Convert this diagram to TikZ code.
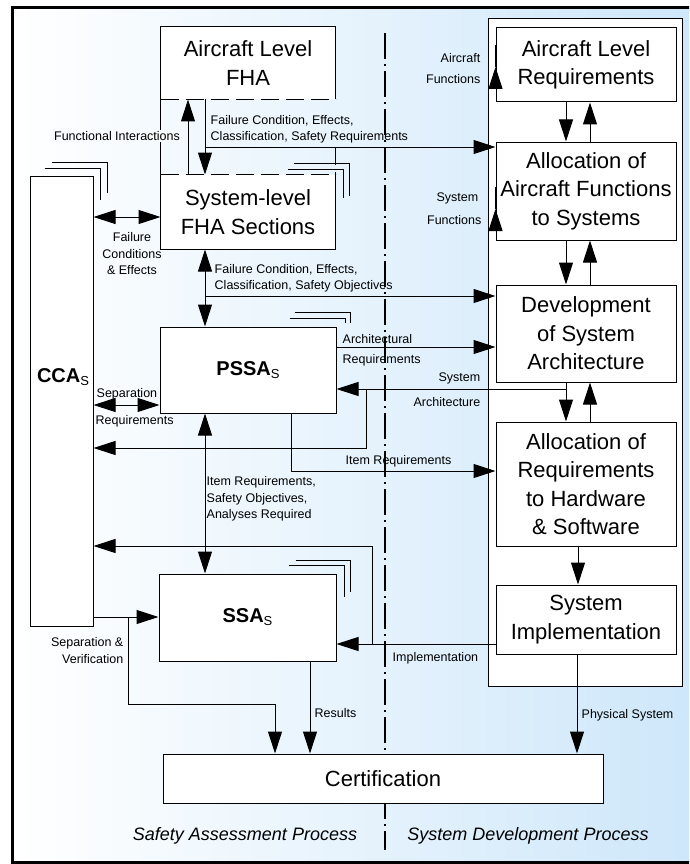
\documentclass[tikz,border=0pt]{standalone}
\usepackage{fontspec}
\setmainfont{Liberation Sans}
\usetikzlibrary{arrows.meta,calc}
\definecolor{bgblue}{RGB}{206,231,250}

\begin{document}
\begin{tikzpicture}[x=1pt,y=-1pt,
  box/.style={draw,fill=white,line width=1pt,align=center,inner sep=0pt,font=\fontsize{22}{28.5}\selectfont},
  bigbox/.style={box,font=\fontsize{20}{24}\selectfont},
  lbl/.style={font=\fontsize{12.5}{16.5}\selectfont,inner sep=1.5pt},
  arr/.style={line width=1pt,-{Triangle[length=22pt,width=14pt]}},
  arr2/.style={line width=1pt,{Triangle[length=22pt,width=14pt]}-{Triangle[length=22pt,width=14pt]}},
  fhadash/.style={line width=1pt,dash pattern=on 18pt off 7pt},
  thin/.style={line width=1pt}]

\useasboundingbox (0,0) rectangle (689,864);
\clip (0,0) rectangle (689,864);
\fill[left color=white,right color=bgblue] (12,8) rectangle (689,862);
\draw[line width=3pt] (12,8) rectangle (700,862);

% process divider
\draw[line width=1.5pt,dash pattern=on 26pt off 5pt on 2pt off 5pt] (385,33) -- (385,850);

% system development side
\node[draw,fill=white,line width=1pt,minimum width=194pt,minimum height=667pt,inner sep=0pt] (sdp) at (585,352.5) {};
\node[box,minimum width=180pt,minimum height=74pt] (alr) at (586,65) {Aircraft Level\\Requirements};
\node[box,minimum width=180pt,minimum height=98pt] (aafs) at (586,191) {Allocation of\\Aircraft Functions\\to Systems};
\node[box,minimum width=180pt,minimum height=97pt] (dsa) at (586,333.5) {Development\\of System\\Architecture};
\node[box,minimum width=180pt,minimum height=124pt] (arhs) at (586,484) {Allocation of\\Requirements\\to Hardware\\\& Software};
\node[box,minimum width=180pt,minimum height=69pt] (si) at (586,619.5) {System\\Implementation};

% safety assessment side
\node[box,draw=none,minimum width=174pt,minimum height=72pt] (afha) at (248,63) {Aircraft Level\\FHA};
\node[box,draw=none,minimum width=174pt,minimum height=74pt] (sfha) at (248,212) {System-level\\FHA Sections};
\node[box,minimum width=63pt,minimum height=450pt] (cca) at (61.5,401) {};
\node[font=\fontsize{20}{24}\selectfont,inner sep=0pt] (ccaTxt) at (63,377) {\textbf{CCA}\raisebox{-3pt}{\fontsize{13}{13}\selectfont S}};
\node[bigbox,minimum width=176pt,minimum height=86pt] (pssa) at (248,370) {\textbf{PSSA}\raisebox{-3pt}{\fontsize{13}{13}\selectfont S}};
\node[bigbox,minimum width=177pt,minimum height=87pt] (ssa) at (247.5,617.5) {\textbf{SSA}\raisebox{-3pt}{\fontsize{13}{13}\selectfont S}};
\node[box,minimum width=440pt,minimum height=49pt] (cert) at (383,778.5) {Certification};

% FHA outlines
\draw[thin] (afha.south west) |- (afha.north east) -- (afha.south east);
\draw[fhadash] (afha.south west) -- (afha.south east);
\draw[thin] (sfha.north west) |- (sfha.south east) -- (sfha.north east);
\draw[fhadash] (sfha.north west) -- (sfha.north east);
\draw[thin] (afha.south west) -- (sfha.north west);

% stacked sections
\draw[thin] ([shift={(-48,-5)}]sfha.north east) -| ([shift={(8,23)}]sfha.north east);
\draw[thin] ([shift={(-42,-11)}]sfha.north east) -| ([shift={(14,21)}]sfha.north east);
\draw[thin] ([shift={(-49,-7)}]cca.north east) -| ([shift={(7,24)}]cca.north east);
\draw[thin] ([shift={(-42,-13)}]cca.north east) -| ([shift={(14,17)}]cca.north east);
\draw[thin] ([shift={(-47,-8)}]pssa.north east) -| ([shift={(9,-4)}]pssa.north east);
\draw[thin] ([shift={(-42,-14)}]pssa.north east) -| ([shift={(14,-4)}]pssa.north east);
\draw[thin] ([shift={(-48,-8)}]ssa.north east) -| ([shift={(8,23)}]ssa.north east);
\draw[thin] ([shift={(-41,-13)}]ssa.north east) -| ([shift={(14,18)}]ssa.north east);

% levels
\coordinate (fi) at (188,0);
\coordinate (fc) at (205,0);
\coordinate (dn) at (566,0);
\coordinate (up) at (590,0);
\coordinate (md) at (578,0);
\coordinate (frJ) at (205,147);
\coordinate (soJ) at (205,296);
\coordinate (lvFC) at (0,217);
\coordinate (lvAR) at (0,347);
\coordinate (lvSA) at (0,389);
\coordinate (saB) at (366,389);
\coordinate (lvSB) at (0,448);
\coordinate (irJ) at (291,471);
\coordinate (lvSR) at (0,405);
\coordinate (lvCC) at (0,546);
\coordinate (lvIM) at (0,644);
\coordinate (imB) at (372,644);
\coordinate (lvSV) at (0,617);
\coordinate (svB) at (128,617);
\coordinate (svC) at (275,704);
\coordinate (rs) at (310,0);
\coordinate (ps) at (577,0);

% right column flow
\draw[arr] (alr.south -| dn) -- (aafs.north -| dn);
\draw[arr] (aafs.north -| up) -- (alr.south -| up);
\draw[arr] (aafs.south -| dn) -- (dsa.north -| dn);
\draw[arr] (dsa.north -| up) -- (aafs.south -| up);
\draw[arr] (dsa.south -| dn) -- (arhs.north -| dn);
\draw[arr] (arhs.north -| up) -- (dsa.south -| up);
\draw[arr] (arhs.south -| md) -- (si.north -| md);

% FHA links
\draw[arr] (sfha.north -| fi) -- (afha.south -| fi);
\draw[arr] (afha.south -| fc) -- (sfha.north -| fc);
\draw[arr] (frJ) -- (frJ -| aafs.west);
\draw[fhadash] (frJ -| afha.east) -- (sfha.north east);
\draw[arr] ($(alr.west)+(0,2)$) -- ($(alr.west)+(0,2)$ -| afha.east);
\draw[arr] ($(aafs.west)+(0,18)$) -- ($(aafs.west)+(0,18)$ -| sfha.east);
\draw[arr2] (cca.east |- lvFC) -- (sfha.west |- lvFC);
\draw[arr2] (sfha.south -| fc) -- (pssa.north -| fc);
\draw[arr] (soJ) -- (soJ -| dsa.west);

% PSSA links
\draw[arr] (pssa.east |- lvAR) -- (dsa.west |- lvAR);
\draw[arr] (dn |- lvSA) -- (pssa.east |- lvSA);
\draw[arr] (saB) |- (cca.east |- lvSB);
\draw[arr] (pssa.south -| irJ) |- (arhs.west |- irJ);
\draw[arr2] (cca.east |- lvSR) -- (pssa.west |- lvSR);
\draw[arr2] (pssa.south -| fc) -- (ssa.north -| fc);

% SSA links
\draw[arr] (si.west |- lvIM) -- (ssa.east |- lvIM);
\draw[arr] (imB) |- (cca.east |- lvCC);
\draw[arr] (cca.east |- lvSV) -- (ssa.west |- lvSV);
\draw[arr] (svB) |- (svC) -- (svC |- cert.north);
\draw[arr] (ssa.south -| rs) -- (cert.north -| rs);
\draw[arr] (si.south -| ps) -- (cert.north -| ps);

% labels
\node[lbl,fill=bgblue!15!white] (fiLbl) at (117,136) {Functional Interactions};
\node[lbl,anchor=south east] (afLbl) at (482,64) {Aircraft};
\node[lbl,anchor=north east] (afLbl2) at (482,73) {Functions};
\node[lbl,anchor=south west,align=left] (frLbl) at (209,145) {Failure Condition, Effects,\\Classification, Safety Requirements};
\node[lbl,anchor=south east] (sfLbl) at (480,206) {System};
\node[lbl,anchor=north east] (sfLbl2) at (483,214) {Functions};
\node[lbl,anchor=north,align=center] (fcLbl) at (132,231) {Failure\\Conditions\\\& Effects};
\node[lbl,anchor=south west,align=left] (soLbl) at (213,294) {Failure Condition, Effects,\\Classification, Safety Objectives};
\node[lbl,anchor=south west] (arLbl) at (341,345) {Architectural};
\node[lbl,anchor=north west] (arLbl2) at (341,353) {Requirements};
\node[lbl,anchor=south east] (saLbl) at (482,386) {System};
\node[lbl,anchor=north east] (saLbl2) at (482,396) {Architecture};
\node[lbl,anchor=south west] (srLbl) at (95,402) {Separation};
\node[lbl,anchor=north west] (srLbl2) at (94,414) {Requirements};
\node[lbl,anchor=south west] (irLbl) at (344,469) {Item Requirements};
\node[lbl,anchor=north west,align=left] (isLbl) at (205,475) {Item Requirements,\\Safety Objectives,\\Analyses Required};
\node[lbl,anchor=north west] (imLbl) at (391,651) {Implementation};
\node[lbl,anchor=north east,align=right] (svLbl) at (125,636) {Separation \&\\Verification};
\node[lbl,anchor=west] (rsLbl) at (313,713) {Results};
\node[lbl,anchor=west] (psLbl) at (580,715) {Physical System};
\node[font=\fontsize{18}{20}\selectfont\itshape] (sapLbl) at (245,836) {Safety Assessment Process};
\node[font=\fontsize{18}{20}\selectfont\itshape] (sdpLbl) at (528,836) {System Development Process};
\end{tikzpicture}
\end{document}
